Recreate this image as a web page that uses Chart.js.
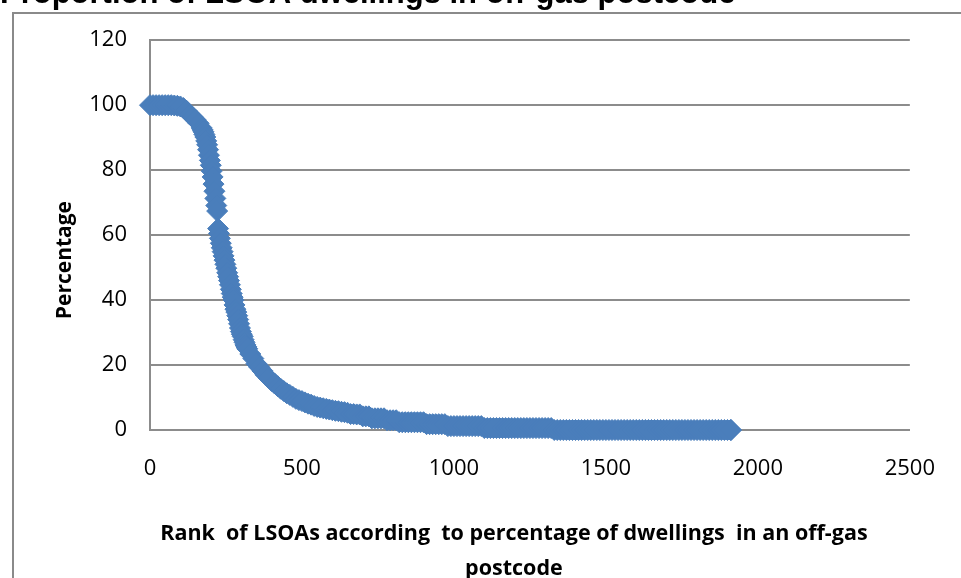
<!DOCTYPE html>
<html>
<head>
<meta charset="utf-8">
<script src="https://cdn.jsdelivr.net/npm/chart.js@4"></script>
<style>
  html, body { margin: 0; padding: 0; background: #fff; overflow: hidden; }
  #page { position: relative; width: 961px; height: 578px; overflow: hidden; }
  #frame {
    position: absolute; left: 12px; top: 12px; width: 1100px; height: 700px;
    border: 2px solid #8a8a8a; box-sizing: border-box;
  }
  #chart { position: absolute; left: 0; top: -30px; }
</style>
</head>
<body>
<div id="page">
  <div id="frame"></div>
  <canvas id="chart" width="961" height="608"></canvas>
</div>
<script>
// Chart text
const chartTitle = 'Proportion of LSOA dwellings in off-gas postcode';
const xTitle = ['Rank  of LSOAs according  to percentage of dwellings  in an off-gas', 'postcode'];
const yTitle = 'Percentage';

// Axis ticks
const xTicks = [0, 500, 1000, 1500, 2000, 2500];
const yTicks = [0, 20, 40, 60, 80, 100, 120];

// Rank of each LSOA sample
const ranks = [
  0, 10, 20, 30, 40, 50, 60, 70, 80, 90, 100, 110, 120, 130, 140, 150, 160,
  170, 173, 176, 179, 182, 185, 188, 191, 194, 197, 200, 203, 206, 209, 212, 215, 218,
  221, 224, 227, 230, 233, 236, 239, 242, 245, 248, 251, 254, 257, 260, 263, 266, 269,
  272, 275, 278, 281, 284, 287, 290, 293, 296, 299, 302, 305, 308, 311, 314, 317, 320,
  330, 340, 350, 360, 370, 380, 390, 400, 410, 420,
  430, 440, 450, 460, 470, 480, 490, 500, 510, 520,
  530, 540, 550, 560, 570, 580, 590, 600, 610, 620,
  630, 640, 650, 660, 670, 680, 690, 700, 710, 720,
  730, 740, 750, 760, 770, 780, 790, 800, 810, 820,
  830, 840, 850, 860, 870, 880, 890, 900, 910, 920,
  930, 940, 950, 960, 970, 980, 990, 1000, 1010, 1020,
  1030, 1040, 1050, 1060, 1070, 1080, 1090, 1100, 1110, 1120,
  1130, 1140, 1150, 1160, 1170, 1180, 1190, 1200, 1210, 1220,
  1230, 1240, 1250, 1260, 1270, 1280, 1290, 1300, 1310, 1320,
  1330, 1340, 1350, 1360, 1370, 1380, 1390, 1400, 1410, 1420,
  1430, 1440, 1450, 1460, 1470, 1480, 1490, 1500, 1510, 1520,
  1530, 1540, 1550, 1560, 1570, 1580, 1590, 1600, 1610, 1620,
  1630, 1640, 1650, 1660, 1670, 1680, 1690, 1700, 1710, 1720,
  1730, 1740, 1750, 1760, 1770, 1780, 1790, 1800, 1810, 1820,
  1830, 1840, 1850, 1860, 1870, 1880, 1890, 1900, 1910, 1912
];

// Percentage of dwellings in an off-gas postcode at each rank
const pct = [
  100, 100, 100, 100, 100, 100, 100, 100, 99.9, 99.8, 99.6, 99.1, 98.3, 97.2, 96.4, 95.5, 94.4,
  93.0, 92.4, 91.8, 91.0, 90.2, 89.0, 87.8, 86.3, 84.6, 83.0, 81.5, 79.7, 77.9, 75.7, 73.5, 71.3, 69.1,
  67.4, 62.0, 60.5, 59.0, 57.5, 56.1, 54.9, 53.6, 52.3, 51.0, 49.8, 48.4, 47.2, 46.0, 44.7, 43.3, 42.0,
  40.9, 40.0, 38.5, 37.2, 36.3, 35.2, 34.0, 32.7, 31.4, 30.3, 29.5, 28.8, 27.8, 27.0, 26.2, 25.6, 25.0,
  23.4, 22.0, 20.4, 19.3, 18.2, 17.0, 16.0, 15.1, 14.3, 13.5,
  12.7, 12.0, 11.3, 10.8, 10.2, 9.6, 9.2, 8.9, 8.5, 8.1,
  7.8, 7.4, 7.1, 6.9, 6.7, 6.5, 6.3, 6.1, 5.9, 5.8,
  5.6, 5.5, 5.3, 4.9, 4.9, 4.8, 4.8, 4.2, 4.2, 4.2,
  3.6, 3.6, 3.6, 3.6, 3.6, 3.0, 3.0, 3.0, 3.0, 2.4,
  2.4, 2.4, 2.4, 2.4, 2.4, 2.4, 2.4, 2.4, 1.8, 1.8,
  1.8, 1.8, 1.8, 1.8, 1.8, 1.2, 1.2, 1.2, 1.2, 1.2,
  1.2, 1.2, 1.2, 1.2, 1.2, 1.2, 1.2, 0.6, 0.6, 0.6,
  0.6, 0.6, 0.6, 0.6, 0.6, 0.6, 0.6, 0.6, 0.6, 0.6,
  0.6, 0.6, 0.6, 0.6, 0.6, 0.6, 0.6, 0.6, 0.6, 0.6,
  0, 0, 0, 0, 0, 0, 0, 0, 0, 0,
  0, 0, 0, 0, 0, 0, 0, 0, 0, 0,
  0, 0, 0, 0, 0, 0, 0, 0, 0, 0,
  0, 0, 0, 0, 0, 0, 0, 0, 0, 0,
  0, 0, 0, 0, 0, 0, 0, 0, 0, 0,
  0, 0, 0, 0, 0, 0, 0, 0, 0, 0
];

const textFont = '"Open Sans", Calibri, Carlito, sans-serif';
const blue = '#4a7ebb';
const gridGrey = '#8c8c8c';

// axis titles drawn as plain text so they can sit where Excel put them
const axisTitles = {
  id: 'axisTitles',
  afterDraw(chart) {
    const ctx = chart.ctx;
    const a = chart.chartArea;
    ctx.save();
    ctx.fillStyle = '#000';
    ctx.textAlign = 'center';
    ctx.textBaseline = 'middle';
    ctx.font = 'bold 21.5px ' + textFont;
    const cx = (a.left + a.right) / 2 - 16;
    ctx.fillText(xTitle[0], cx, a.bottom + 104);
    ctx.fillText(xTitle[1], cx, a.bottom + 139);
    ctx.translate(a.left - 85, (a.top + a.bottom) / 2 + 25);
    ctx.rotate(-Math.PI / 2);
    ctx.font = 'bold 21px ' + textFont;
    ctx.fillText(yTitle, 0, 0);
    ctx.restore();
  }
};

const points = ranks.map((r, i) => ({ x: r, y: pct[i] }));

new Chart(document.getElementById('chart'), {
  type: 'scatter',
  data: {
    datasets: [{
      data: points,
      pointStyle: 'rectRot',
      pointRadius: 10.5,
      pointHoverRadius: 10.5,
      backgroundColor: blue,
      borderColor: blue,
      borderWidth: 1,
      clip: false
    }]
  },
  options: {
    responsive: false,
    animation: false,
    events: [],
    layout: { padding: { left: 0, right: 49, top: 0, bottom: 0 } },
    plugins: {
      legend: { display: false },
      tooltip: { enabled: false },
      title: {
        display: true,
        text: chartTitle,
        align: 'start',
        color: '#000',
        font: { family: 'Arial, "Liberation Sans", sans-serif', size: 31, weight: 'bold' },
        padding: { top: 6, bottom: 27 }
      }
    },
    scales: {
      x: {
        type: 'linear',
        min: xTicks[0],
        max: xTicks[xTicks.length - 1],
        afterBuildTicks: s => { s.ticks = xTicks.map(v => ({ value: v })); },
        ticks: {
          padding: 26, color: '#000', font: { family: textFont, size: 22 },
          callback: v => String(v)
        },
        grid: { display: false, drawTicks: false },
        border: { display: true, color: gridGrey, width: 2 },
        afterFit: s => { s.height = 148; }
      },
      y: {
        min: yTicks[0],
        max: yTicks[yTicks.length - 1],
        afterBuildTicks: s => { s.ticks = yTicks.map(v => ({ value: v })); },
        ticks: {
          padding: 23, color: '#000', font: { family: textFont, size: 22 },
          callback: v => String(v)
        },
        grid: { color: gridGrey, lineWidth: 2, drawTicks: false },
        border: { display: true, color: gridGrey, width: 2 },
        afterFit: s => { s.width = 150; }
      }
    }
  },
  plugins: [axisTitles]
});
</script>
</body>
</html>
